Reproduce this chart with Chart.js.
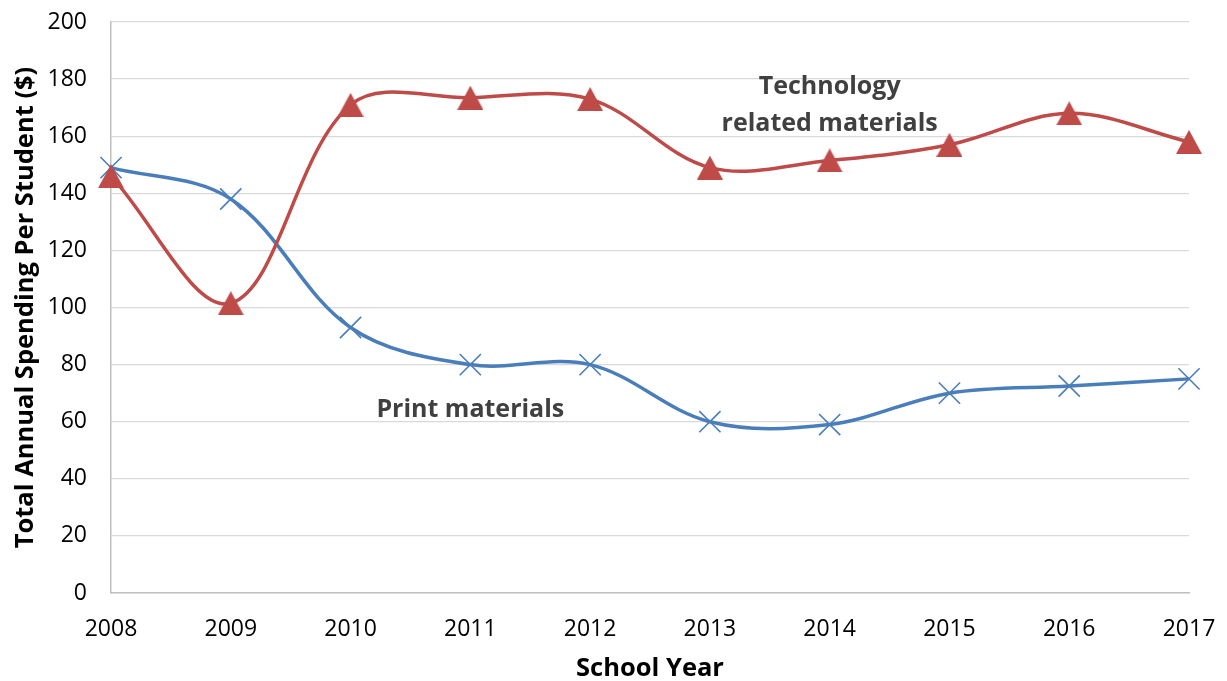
<!DOCTYPE html>
<html>
<head>
<meta charset="utf-8">
<script src="https://cdn.jsdelivr.net/npm/chart.js@4/dist/chart.umd.min.js"></script>
<style>
  body { margin: 0; background: #fff; }
  canvas { display: block; }
</style>
</head>
<body>
<canvas id="chart" width="1227" height="681"></canvas>
<script>
// Años escolares y gasto anual por estudiante ($)
const years = ["2008", "2009", "2010", "2011", "2012", "2013", "2014", "2015", "2016", "2017"];
const printSpending = [149, 138, 93, 80, 80, 60, 59, 70, 72.5, 75];
const techSpending = [146, 101.5, 171, 173.5, 173, 149, 151.5, 157, 168, 158];
const yTicks = [0, 20, 40, 60, 80, 100, 120, 140, 160, 180, 200];

const FONT = "'Open Sans', 'Noto Sans', sans-serif";
const BLUE = "#4a7ebb";
const RED = "#be4b48";

// Triángulo con la caja centrada en el punto
function makeTriangle(w, h, color) {
    const c = document.createElement("canvas");
    c.width = w;
    c.height = h;
    const g = c.getContext("2d");
    g.fillStyle = color;
    g.beginPath();
    g.moveTo(w / 2, 0);
    g.lineTo(w, h);
    g.lineTo(0, h);
    g.closePath();
    g.fill();
    return c;
}

// Etiquetas de las series dentro del área del gráfico
const seriesLabels = {
    id: "seriesLabels",
    afterDatasetsDraw(chart) {
        const { ctx, scales: { x, y } } = chart;
        ctx.save();
        ctx.fillStyle = "#404040";
        ctx.font = "bold 25px " + FONT;
        ctx.textAlign = "center";
        ctx.textBaseline = "middle";
        ctx.fillText("Technology", x.getPixelForValue(6), y.getPixelForValue(177.3));
        ctx.fillText("related materials", x.getPixelForValue(6), y.getPixelForValue(164.2));
        ctx.fillText("Print materials", x.getPixelForValue(3), y.getPixelForValue(64.3));
        ctx.restore();
    }
};

const ctx = document.getElementById("chart").getContext("2d");
new Chart(ctx, {
    type: "line",
    data: {
        labels: years,
        datasets: [
            {
                label: "Technology related materials",
                data: techSpending,
                borderColor: RED,
                backgroundColor: RED,
                borderWidth: 3.5,
                tension: 0.35,
                pointStyle: makeTriangle(26, 24, RED),
                pointRadius: 13
            },
            {
                label: "Print materials",
                data: printSpending,
                borderColor: BLUE,
                backgroundColor: BLUE,
                borderWidth: 3.5,
                tension: 0.35,
                pointStyle: "crossRot",
                pointRadius: 15,
                pointBorderWidth: 1.6
            }
        ]
    },
    options: {
        responsive: false,
        animation: false,
        layout: { padding: { top: 22, right: 38, left: 0, bottom: 0 } },
        plugins: {
            legend: { display: false },
            tooltip: { enabled: false }
        },
        scales: {
            x: {
                offset: false,
                grid: { display: false, drawTicks: false },
                border: { display: true, color: "#bfbfbf", width: 1.5 },
                ticks: {
                    color: "#000",
                    font: { family: FONT, size: 23 },
                    padding: 23,
                    maxRotation: 0,
                    autoSkip: false
                },
                title: {
                    display: true,
                    text: "School Year",
                    color: "#000",
                    font: { family: FONT, size: 25.5, weight: "bold" },
                    padding: { top: 0, bottom: -3 }
                },
                afterFit(scale) {
                    scale.height = 88;
                    scale.paddingLeft = 0;
                    scale.paddingRight = 0;
                }
            },
            y: {
                min: 0,
                max: 200,
                afterBuildTicks(scale) {
                    scale.ticks = yTicks.map(v => ({ value: v }));
                },
                grid: { color: "#d9d9d9", lineWidth: 1.3, drawTicks: false },
                border: { display: true, color: "#bfbfbf", width: 1.5 },
                ticks: {
                    color: "#000",
                    font: { family: FONT, size: 23 },
                    padding: 24
                },
                title: {
                    display: true,
                    text: "Total Annual Spending Per Student ($)",
                    color: "#000",
                    font: { family: FONT, size: 25.5, weight: "bold" },
                    padding: { top: 10, bottom: 0 }
                },
                afterFit(scale) {
                    scale.width = 111;
                    scale.paddingTop = 0;
                    scale.paddingBottom = 0;
                }
            }
        }
    },
    plugins: [seriesLabels]
});
</script>
</body>
</html>
